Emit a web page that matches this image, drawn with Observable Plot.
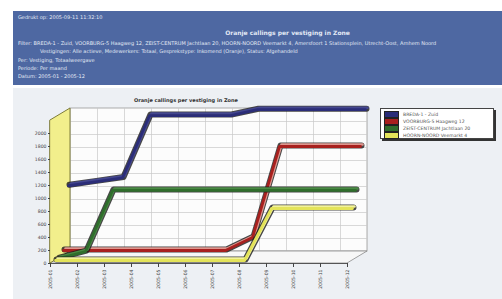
<!DOCTYPE html>
<html><head><meta charset="utf-8">
<script src="https://cdn.jsdelivr.net/npm/d3@7"></script>
<script src="https://cdn.jsdelivr.net/npm/@observablehq/plot@0.6"></script>
<style>
body{margin:0;width:502px;height:299px;overflow:hidden;background:#fff;font-family:"DejaVu Sans",sans-serif;position:relative}
#hdr{position:absolute;left:13px;top:11px;width:489px;height:74px;background:#4e68a2;color:#e2e8f5;font-size:5px;line-height:6px}
#hdr div{position:absolute;white-space:nowrap}
#chart{position:absolute;left:0;top:88px}
#legend{position:absolute;left:380px;top:108px;width:114px;height:31px;background:#fff;border:1px solid #444;box-shadow:2px 2px 0 #333;font-size:4.6px;color:#555;padding-top:2px;box-sizing:border-box}
#legend .row{height:7px;display:flex;align-items:center;white-space:nowrap}
#legend .sw{width:13px;height:5px;margin:0 4px 0 3px;border:0.5px solid #222}
</style></head>
<body>
<div id="hdr">
  <div style="left:5px;top:3px">Gedrukt op: 2005-09-11 11:32:10</div>
  <div style="left:0;width:489px;top:19px;text-align:center;font-weight:bold;font-size:6px;padding-left:60px;box-sizing:border-box">Oranje callings per vestiging in Zone</div>
  <div style="left:5px;top:29px">Filter: BREDA-1 - Zuid, VOORBURG-5 Haagweg 12, ZEIST-CENTRUM Jachtlaan 20, HOORN-NOORD Veemarkt 4, Amersfoort 1 Stationsplein, Utrecht-Oost, Arnhem Noord</div>
  <div style="left:27px;top:37px">Vestigingen: Alle actieve, Medewerkers: Totaal, Gesprekstype: Inkomend (Oranje), Status: Afgehandeld</div>
  <div style="left:5px;top:46px">Per: Vestiging, Totaalweergave</div>
  <div style="left:5px;top:54px">Periode: Per maand</div>
  <div style="left:5px;top:62px">Datum: 2005-01 - 2005-12</div>
</div>
<div id="chart"></div>
<div id="legend"></div>
<script>
const months = ["2005-01","2005-02","2005-03","2005-04","2005-05","2005-06","2005-07","2005-08","2005-09","2005-10","2005-11","2005-12"];
const seriesNames = ["BREDA-1 - Zuid","VOORBURG-5 Haagweg 12","ZEIST-CENTRUM Jachtlaan 20","HOORN-NOORD Veemarkt 4"];
const blueValues   = [1030,1090,1150,2110,2110,2110,2110,2200,2200,2200,2200,2200];
const redValues    = [80,80,80,80,80,80,80,280,1680,1680,1680,1680];
const greenValues  = [0,110,1050,1050,1050,1050,1050,1050,1050,1050,1050,1050];
const yellowValues = [0,0,0,0,0,0,0,0,800,800,800,800];
const yTicks = [0,200,400,600,800,1000,1200,1400,1600,1800,2000];

const colors = ["#2b2d78","#a8201e","#2f6e2c","#e4e45a"];
const faceColors = ["#44478f","#e0968e","#4a8a44","#f2f29c"];
const depthFrac = [0.9,0.65,0.4,0.25];
const allSeries = [blueValues, redValues, greenValues, yellowValues];

const W = 502, H = 211, mL = 50, mR = 155, mT = 12.5, mB = 36;
const yTop = 2500, yMax = 2200, DX = 20, DY = 12;
const pxPerIndex = (W - mL - mR) / (months.length - 1);
const pxPerUnit = (H - mT - mB) / yTop;
const kx = DX / pxPerIndex, ky = DY / pxPerUnit;
const last = months.length - 1;

const floor = [
  {x: 0, y1: 0, y2: 0},
  {x: kx, y1: 0, y2: ky},
  {x: last, y1: 0, y2: ky},
  {x: last + kx, y1: ky, y2: ky}
];
const leftWall = [{x: 0, y1: 0, y2: yMax}, {x: kx, y1: ky, y2: yMax + ky}];

const seriesMarks = allSeries.flatMap((vals, s) => {
  const data = vals.map((v, i) => ({i, v}));
  const dx = DX * depthFrac[s], dy = -DY * depthFrac[s];
  return [
    Plot.line(data, {x: "i", y: "v", dx: dx + 1, dy: dy - 1, stroke: "#1a1a1a", strokeWidth: 6, strokeLinejoin: "round", strokeOpacity: 0.8}),
    Plot.line(data, {x: "i", y: "v", dx: dx + 2, dy: dy - 2, stroke: faceColors[s], strokeWidth: 2.6, strokeLinejoin: "round"}),
    Plot.line(data, {x: "i", y: "v", dx, dy, stroke: colors[s], strokeWidth: 2.8, strokeLinejoin: "round"})
  ];
});

const chart = Plot.plot({
  width: W, height: H,
  marginLeft: mL, marginRight: mR, marginTop: mT, marginBottom: mB,
  style: {background: "linear-gradient(to right, #fff 13px, #edf0f4 13px)", fontFamily: "DejaVu Sans, sans-serif", overflow: "visible"},
  x: {domain: [0, last], range: [mL, W - mR]},
  y: {domain: [0, yTop]},
  marks: [
    Plot.rect([{x1: 0, x2: last, y1: 0, y2: yMax}], {x1: "x1", x2: "x2", y1: "y1", y2: "y2", dx: DX, dy: -DY, fill: "#fcfcfc", stroke: "#9a9a9a", strokeWidth: 0.8}),
    Plot.ruleY(d3.range(200, yMax, 200), {x1: 0, x2: last, dx: DX, dy: -DY, stroke: "#c9c9c9", strokeWidth: 0.7}),
    Plot.ruleX(d3.range(1, months.length), {y1: 0, y2: yMax, dx: DX, dy: -DY, stroke: "#c9c9c9", strokeWidth: 0.7}),
    Plot.areaY(floor, {x: "x", y1: "y1", y2: "y2", fill: "#f7f7f7", stroke: "#8a8a8a", strokeWidth: 0.8}),
    Plot.areaY(leftWall, {x: "x", y1: "y1", y2: "y2", fill: "#f2ef8c", stroke: "#7e7c3a", strokeWidth: 1}),
    ...seriesMarks,
    Plot.ruleY([0], {x1: 0, x2: last, stroke: "#555", strokeWidth: 1}),
    Plot.text(["Oranje callings per vestiging in Zone"], {frameAnchor: "top", dx: -13, dy: -3, fontSize: 5, fontWeight: "bold", fill: "#333"}),
    Plot.axisY({ticks: yTicks, tickFormat: d => String(d), tickSize: 2, tickPadding: 2, fontSize: 4.6, color: "#444", label: null}),
    Plot.axisX({ticks: d3.range(months.length), tickFormat: i => months[i], tickRotate: -90, tickSize: 4, tickPadding: 2, fontSize: 4.6, color: "#444", label: null})
  ]
});
document.getElementById("chart").appendChild(chart);

const legend = document.getElementById("legend");
seriesNames.forEach((name, s) => {
  const row = document.createElement("div");
  row.className = "row";
  row.innerHTML = `<span class="sw" style="background:${colors[s]}"></span><span>${name}</span>`;
  legend.appendChild(row);
});
</script>
</body></html>
